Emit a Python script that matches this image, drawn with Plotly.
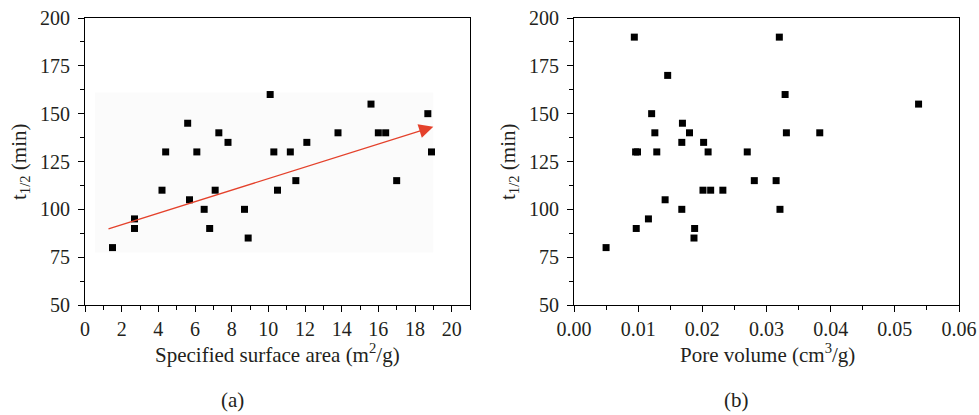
import plotly.graph_objects as go

# panel (a): specific surface area vs t1/2
area = [1.5, 2.7, 2.7, 4.2, 4.4, 5.6, 5.7, 6.1, 6.5, 6.8, 7.1, 7.3, 7.8, 8.7,
        8.9, 10.1, 10.3, 10.5, 11.2, 11.5, 12.1, 13.8, 15.6, 16.0, 16.4, 17.0,
        18.7, 18.9]
t_a = [80, 95, 90, 110, 130, 145, 105, 130, 100, 90, 110, 140, 135, 100,
       85, 160, 130, 110, 130, 115, 135, 140, 155, 140, 140, 115,
       150, 130]

# trend arrow (start / end in data units)
arrow_x = [1.2, 19.0]
arrow_y = [89.5, 143.2]

# panel (b): pore volume vs t1/2
pore = [0.0094, 0.0320, 0.0146, 0.0329, 0.0537, 0.0121, 0.0126, 0.0169,
        0.0180, 0.0331, 0.0383, 0.0168, 0.0202, 0.0096, 0.0099, 0.0129,
        0.0209, 0.0270, 0.0281, 0.0315, 0.0201, 0.0213, 0.0232, 0.0142,
        0.0168, 0.0321, 0.0116, 0.0097, 0.0188, 0.0187, 0.0050]
t_b = [190, 190, 170, 160, 155, 150, 140, 145,
       140, 140, 140, 135, 135, 130, 130, 130,
       130, 130, 115, 115, 110, 110, 110, 105,
       100, 100, 95, 90, 90, 85, 80]

FONT = "Liberation Serif"
TXT = "#231f20"
marker = dict(symbol="square", size=7, color="black")

W, H = 979, 415
TOP, BOT = 18, 110

fig = go.Figure()
fig.add_trace(go.Scatter(x=area, y=t_a, mode="markers", marker=marker,
                         xaxis="x", yaxis="y", showlegend=False))
fig.add_trace(go.Scatter(x=pore, y=t_b, mode="markers", marker=marker,
                         xaxis="x2", yaxis="y2", showlegend=False))

axis_common = dict(
    showline=True, linecolor="black", linewidth=1.2, mirror=True,
    ticks="outside", ticklen=6, tickwidth=1.2, tickcolor="black",
    showgrid=False, zeroline=False, automargin=False,
    tickfont=dict(family=FONT, size=20, color=TXT),
    minor=dict(ticks="outside", ticklen=3.5, tickwidth=1.2, tickcolor="black"),
)

fig.update_layout(
    width=W, height=H,
    margin=dict(l=0, r=0, t=TOP, b=BOT),
    plot_bgcolor="white", paper_bgcolor="white",
    font=dict(family=FONT, color=TXT),
    xaxis=dict(domain=[85 / W, 470 / W], range=[0, 21], tickvals=list(range(0, 21, 2)),
               minor_dtick=1, anchor="y", **axis_common),
    yaxis=dict(domain=[0, 1], range=[50, 200], dtick=25, minor_dtick=12.5,
               anchor="x", ticklabelstandoff=4, **axis_common),
    xaxis2=dict(domain=[574 / W, 959 / W], range=[0, 0.06], dtick=0.01, tickformat=".2f",
                minor_dtick=0.005, anchor="y2", **axis_common),
    yaxis2=dict(domain=[0, 1], range=[50, 200], dtick=25, minor_dtick=12.5,
                anchor="x2", ticklabelstandoff=4, **axis_common),
)

# faint background patch behind the arrow in panel (a)
fig.add_shape(type="rect", xref="x", yref="y", x0=0.55, x1=19.0, y0=77.5, y1=161,
              fillcolor="#fbfbfb", line_width=0, layer="below")

fig.add_annotation(xref="x", yref="y", axref="x", ayref="y",
                   x=arrow_x[1], y=arrow_y[1], ax=arrow_x[0], ay=arrow_y[0],
                   showarrow=True, arrowhead=2, arrowsize=2.2, arrowwidth=1.3,
                   arrowcolor="#e4412b", text="")


def px(xp, yp):
    # page pixel -> paper fraction
    return xp / W, 1 - (yp - TOP) / (H - TOP - BOT)


texts = [
    ("t<sub>1/2</sub> (min)", 20, 162, -90),
    ("t<sub>1/2</sub> (min)", 509, 162, -90),
    ("Specified surface area (m<sup>2</sup>/g)", 277, 353, 0),
    ("Pore volume (cm<sup>3</sup>/g)", 767, 353, 0),
    ("(a)", 232, 400, 0),
    ("(b)", 736, 400, 0),
]
for txt, xp, yp, ang in texts:
    fx, fy = px(xp, yp)
    fig.add_annotation(xref="paper", yref="paper", x=fx, y=fy, text=txt, textangle=ang,
                       showarrow=False, xanchor="center", yanchor="middle",
                       font=dict(family=FONT, size=21, color=TXT))

# drop the browser's default body margin so the figure fills the window
fig.write_html("out.html", config={"displayModeBar": False},
               post_script="document.body.style.margin='0';")
